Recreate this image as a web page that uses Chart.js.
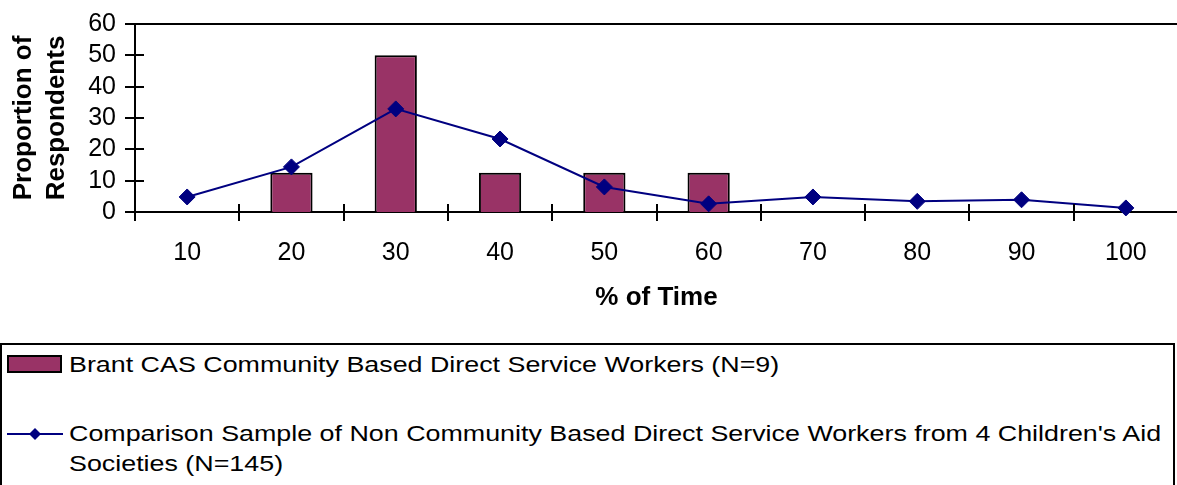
<!DOCTYPE html>
<html>
<head>
<meta charset="utf-8">
<script src="https://cdn.jsdelivr.net/npm/chart.js@4.4.1/dist/chart.umd.min.js"></script>
<style>
  html, body { margin: 0; padding: 0; background: #fff; overflow: hidden; width: 1177px; height: 485px; }
  #wrap { position: relative; width: 1177px; height: 485px; overflow: hidden; }
  #chart { position: absolute; left: 0; top: 0; }
  #legend { position: absolute; left: 0; top: 343px; width: 1175px; height: 200px; box-sizing: border-box; border: 2px solid #000; background: #fff; }
  .lt { position: absolute; left: 69px; font-family: 'Liberation Sans', Arial, sans-serif; font-size: 22px; line-height: 26px; color: #000; white-space: nowrap; transform: scaleX(1.22); transform-origin: 0 0; }
  .sw1 { position: absolute; left: 7px; top: 355px; width: 55px; height: 18px; box-sizing: border-box; border: 2px solid #000; background: #993366; }
  .sw2 { position: absolute; left: 6px; top: 426px; }
</style>
</head>
<body>
<div id="wrap">
  <canvas id="chart" width="1187" height="320"></canvas>
  <div id="legend"></div>
  <div class="sw1"></div>
  <svg class="sw2" width="60" height="16" viewBox="0 0 60 16">
    <line x1="1" y1="8" x2="57" y2="8" stroke="#000080" stroke-width="2"/>
    <polygon points="29,2 35,8 29,14 23,8" fill="#000080"/>
  </svg>
  <div class="lt" id="leg1" style="top:352px"></div>
  <div class="lt" id="leg2a" style="top:421px"></div>
  <div class="lt" id="leg2b" style="top:451px"></div>
</div>
<script>
// ---- data ----
const categories = ['10', '20', '30', '40', '50', '60', '70', '80', '90', '100'];
const brantValues = [null, 12.5, 50, 12.5, 12.5, 12.5, null, null, null, null];
const comparisonValues = [4.8, 14.4, 32.9, 23.3, 8.0, 2.6, 4.8, 3.4, 3.9, 1.3];
const brantLabel = 'Brant CAS Community Based Direct Service Workers (N=9)';
const comparisonLabelLines = ["Comparison Sample of Non Community Based Direct Service Workers from 4 Children's Aid", 'Societies (N=145)'];
const yTitleLines = ['Proportion of', 'Respondents'];
const xTitle = '% of Time';
const yMin = 0, yMax = 60, yStep = 10;

document.getElementById('leg1').textContent = brantLabel;
document.getElementById('leg2a').textContent = comparisonLabelLines[0];
document.getElementById('leg2b').textContent = comparisonLabelLines[1];

const FONT = "'Liberation Sans', Arial, sans-serif";

const crossTicks = {
  id: 'crossTicks',
  afterDraw(chart) {
    const { ctx, chartArea, scales: { x, y } } = chart;
    ctx.save();
    ctx.strokeStyle = '#000';
    ctx.lineWidth = 2;
    ctx.beginPath();
    ctx.moveTo(chartArea.left, chartArea.top);
    ctx.lineTo(chartArea.right, chartArea.top);
    y.ticks.forEach(t => {
      const py = Math.round(y.getPixelForValue(t.value));
      ctx.moveTo(chartArea.left - 10, py);
      ctx.lineTo(chartArea.left + 9, py);
    });
    for (let i = 0; i <= categories.length; i++) {
      const px = Math.round(x.getPixelForValue(i - 0.5));
      ctx.moveTo(px, chartArea.bottom - 8);
      ctx.lineTo(px, chartArea.bottom + 9);
    }
    ctx.stroke();
    ctx.restore();
  }
};

new Chart(document.getElementById('chart'), {
  data: {
    labels: categories,
    datasets: [
      {
        type: 'bar',
        label: brantLabel,
        data: brantValues,
        backgroundColor: '#993366',
        borderColor: '#000',
        borderWidth: 2,
        barPercentage: 0.405,
        categoryPercentage: 1.0,
        order: 2
      },
      {
        type: 'line',
        label: comparisonLabelLines.join(' '),
        data: comparisonValues,
        borderColor: '#000080',
        backgroundColor: '#000080',
        borderWidth: 2,
        pointStyle: 'rectRot',
        pointRadius: 8,
        pointBorderWidth: 1,
        pointBackgroundColor: '#000080',
        pointBorderColor: '#000080',
        tension: 0,
        clip: false,
        order: 1
      }
    ]
  },
  options: {
    responsive: false,
    animation: false,
    devicePixelRatio: 1,
    layout: { padding: { left: 0, top: 24, right: 2, bottom: 0 } },
    plugins: { legend: { display: false }, tooltip: { enabled: false } },
    scales: {
      x: {
        offset: true,
        grid: { display: false, drawTicks: false },
        border: { display: true, color: '#000', width: 2 },
        ticks: { color: '#000', font: { family: FONT, size: 25 }, padding: 26, maxRotation: 0, autoSkip: false },
        title: { display: true, text: xTitle, color: '#000', font: { family: FONT, size: 26, weight: 'bold', lineHeight: 1.2 }, padding: { top: 0, bottom: 7 } },
        afterFit(s) { s.height = 108; s.paddingLeft = 0; s.paddingRight = 0; }
      },
      y: {
        min: yMin, max: yMax,
        grid: { display: false, drawTicks: false },
        border: { display: true, color: '#000', width: 2 },
        ticks: { stepSize: yStep, autoSkip: false, color: '#000', font: { family: FONT, size: 25 }, padding: 19 },
        title: { display: true, text: yTitleLines, color: '#000', font: { family: FONT, size: 26, weight: 'bold', lineHeight: 1.25 }, padding: { top: 8, bottom: 0 } },
        afterFit(s) { s.width = 135; s.paddingTop = 0; s.paddingBottom = 0; }
      }
    }
  },
  plugins: [crossTicks]
});
</script>
</body>
</html>
